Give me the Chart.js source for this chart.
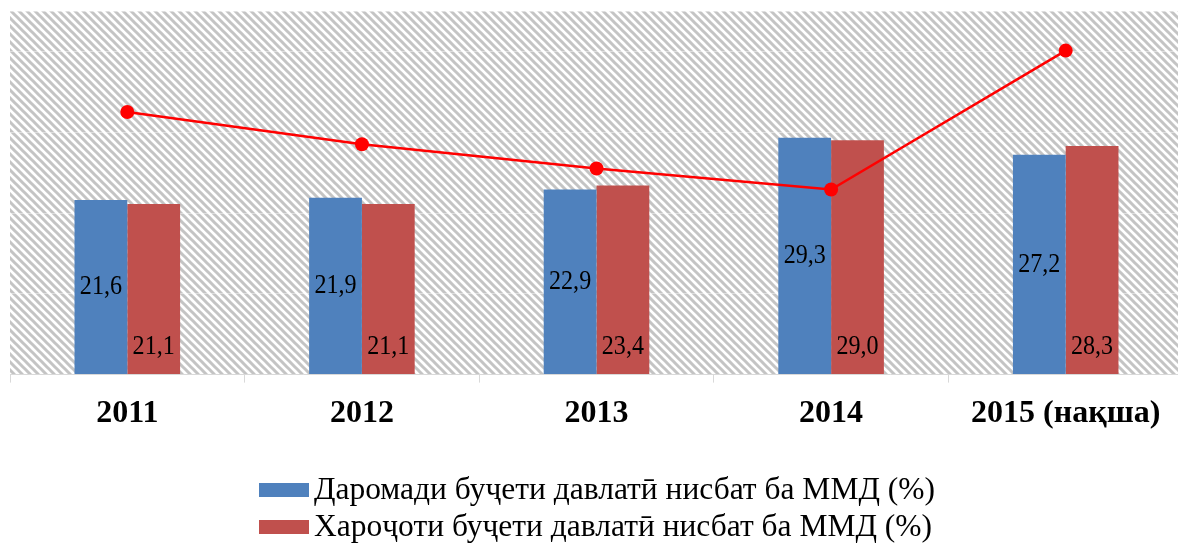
<!DOCTYPE html>
<html>
<head>
<meta charset="utf-8">
<script src="https://cdn.jsdelivr.net/npm/chart.js@4"></script>
<style>
  html, body { margin: 0; padding: 0; background: #fff; overflow: hidden; }
  #wrap { width: 1190px; height: 545px; }
</style>
</head>
<body>
<div id="wrap"><canvas id="graficoBuja"></canvas></div>
<script>
// Маълумот
var solho = ['2011', '2012', '2013', '2014', '2015 (нақша)'];
var daromadData = [21.6, 21.9, 22.9, 29.3, 27.2]; // Даромади буҷет
var harojotData = [21.1, 21.1, 23.4, 29.0, 28.3]; // Хароҷоти буҷет
var khatData = [32.5, 28.5, 25.5, 22.9, 40.1];   // хати сурх (бе тамға)
var nomho = ['Даромади буҷети давлатӣ нисбат ба ММД (%)', 'Хароҷоти буҷети давлатӣ нисбат ба ММД (%)'];
var rangho = ['#4f81bd', '#c0504d'];

var ctx = document.getElementById('graficoBuja').getContext('2d');

// hatched background of the plot area
function naqsh(c) {
    var t = document.createElement('canvas');
    t.width = 8; t.height = 8;
    var x = t.getContext('2d');
    x.fillStyle = '#ffffff';
    x.fillRect(0, 0, 8, 8);
    x.strokeStyle = '#c4c4c4';
    x.lineWidth = 3;
    x.beginPath();
    x.moveTo(-2, -2); x.lineTo(10, 10);
    x.moveTo(6, -2); x.lineTo(10, 2);
    x.moveTo(-2, 6); x.lineTo(2, 10);
    x.stroke();
    return c.createPattern(t, 'repeat');
}

var zaminaPlugin = {
    id: 'zamina',
    beforeDraw: function (chart) {
        var a = chart.chartArea, c = chart.ctx;
        c.save();
        c.fillStyle = naqsh(c);
        c.fillRect(a.left, a.top, a.right - a.left, a.bottom - a.top);
        c.restore();
    }
};

// value labels: blue in the middle, red at the base
var tamgaPlugin = {
    id: 'tamga',
    afterDatasetsDraw: function (chart) {
        var c = chart.ctx;
        c.save();
        c.font = '28px "Liberation Serif"';
        c.fillStyle = '#000';
        c.textAlign = 'center';
        c.textBaseline = 'middle';
        [1, 2].forEach(function (di) {
            var meta = chart.getDatasetMeta(di);
            var vals = chart.data.datasets[di].data;
            meta.data.forEach(function (bar, i) {
                var y = di === 1 ? (bar.y + bar.base) / 2 : bar.base - 27;
                c.save();
                c.translate(bar.x, y);
                c.scale(0.86, 1);
                c.fillText(vals[i].toFixed(1).replace('.', ','), 0, 0);
                c.restore();
            });
        });
        c.restore();
    }
};

// legend on two rows
var legendPlugin = {
    id: 'legendDuqator',
    afterDraw: function (chart) {
        var c = chart.ctx;
        c.save();
        c.font = '31.5px "Liberation Serif"';
        var w = 0;
        nomho.forEach(function (n) { w = Math.max(w, c.measureText(n).width); });
        var boxW = 50, boxH = 14, gap = 5;
        var x0 = Math.round((chart.chartArea.left + chart.chartArea.right) / 2 - (boxW + gap + w) / 2);
        var ys = [490, 527];
        c.textBaseline = 'middle';
        c.textAlign = 'left';
        nomho.forEach(function (n, i) {
            c.fillStyle = rangho[i];
            c.fillRect(x0, ys[i] - boxH / 2, boxW, boxH);
            c.fillStyle = '#000';
            c.fillText(n, x0 + boxW + gap, ys[i] + 1);
        });
        c.restore();
    }
};

var graficoBuja = new Chart(ctx, {
    type: 'bar',
    data: {
        labels: solho,
        datasets: [{
            type: 'line',
            label: 'хат',
            data: khatData,
            order: 0,
            borderColor: '#ff0000',
            backgroundColor: '#ff0000',
            borderWidth: 2.5,
            pointRadius: 7,
            pointBorderWidth: 0,
            pointBackgroundColor: '#ff0000',
            tension: 0
        }, {
            label: nomho[0],
            data: daromadData,
            order: 1,
            backgroundColor: rangho[0],
            categoryPercentage: 0.45,
            barPercentage: 1
        }, {
            label: nomho[1],
            data: harojotData,
            order: 1,
            backgroundColor: rangho[1],
            categoryPercentage: 0.45,
            barPercentage: 1
        }]
    },
    options: {
        responsive: true,
        maintainAspectRatio: false,
        animation: false,
        layout: {
            padding: { left: 10, right: 4, top: 11, bottom: 100 }
        },
        plugins: {
            legend: { display: false },
            tooltip: { enabled: false }
        },
        scales: {
            x: {
                grid: {
                    drawOnChartArea: false,
                    drawTicks: true,
                    tickLength: 8,
                    color: '#d9d9d9'
                },
                border: { color: '#d9d9d9' },
                ticks: {
                    color: '#000',
                    padding: 12,
                    font: { family: 'Liberation Serif', size: 32, weight: 'bold' }
                }
            },
            y: {
                min: 0,
                max: 45,
                ticks: { display: false, stepSize: 10 },
                grid: { color: 'rgba(255,255,255,0.45)', drawTicks: false },
                border: { display: false },
                afterFit: function (s) { s.width = 0; }
            }
        }
    },
    plugins: [zaminaPlugin, tamgaPlugin, legendPlugin]
});
</script>
</body>
</html>
